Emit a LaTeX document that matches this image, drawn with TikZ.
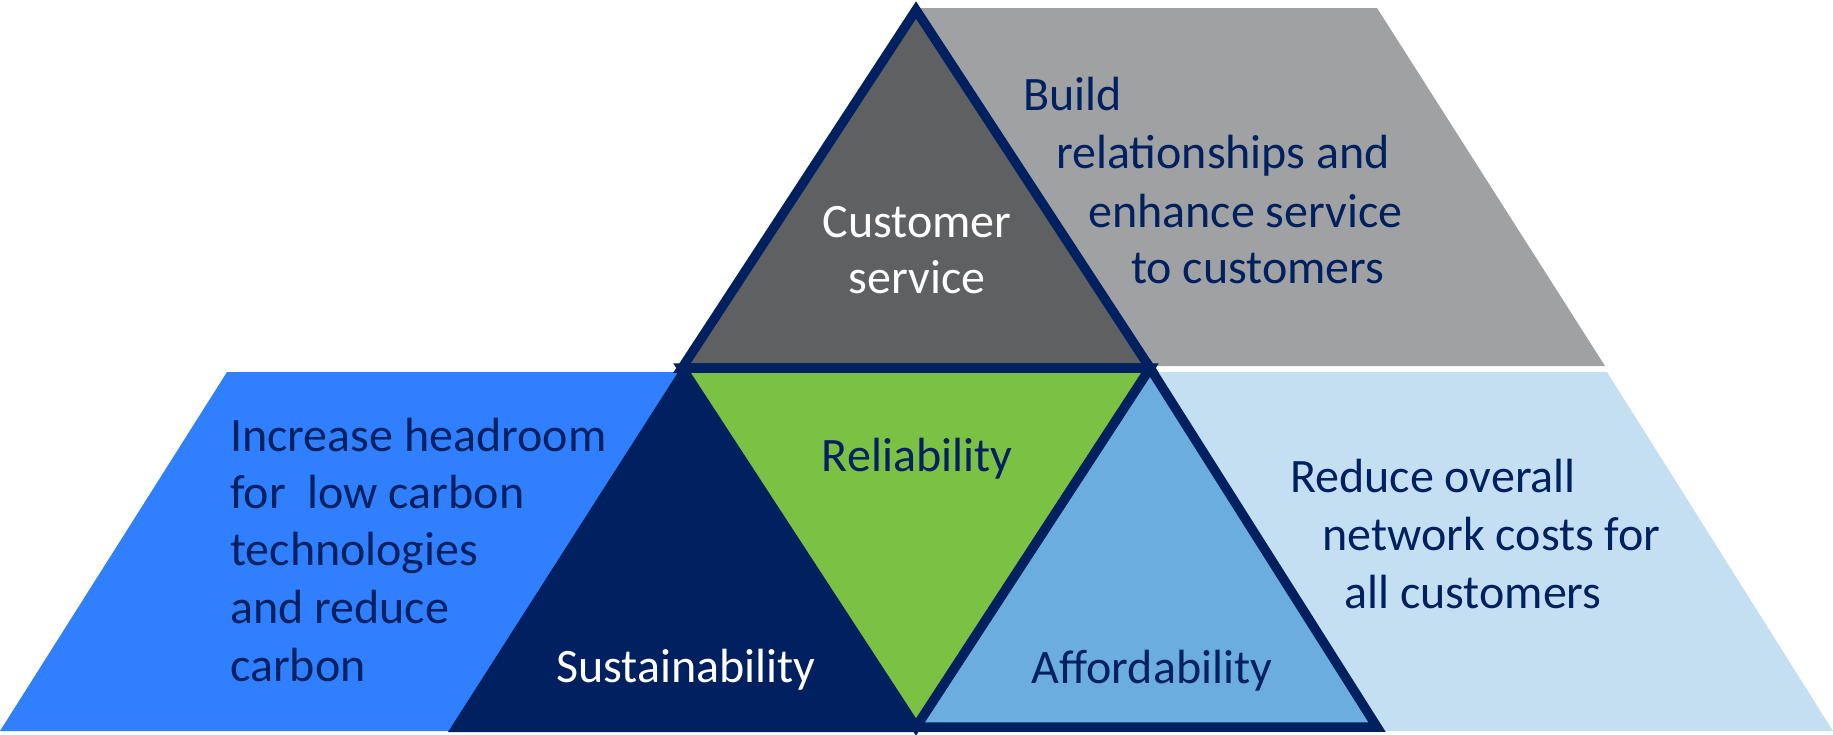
\documentclass[tikz,border=0pt]{standalone}
\usepackage{fontspec}
\setmainfont{Carlito}
\definecolor{navy}{HTML}{002060}
\definecolor{panelgrey}{HTML}{A0A1A3}
\definecolor{darkgrey}{HTML}{5F6062}
\definecolor{brightblue}{HTML}{2F7FFF}
\definecolor{paleblue}{HTML}{C4DFF2}
\definecolor{midblue}{HTML}{6BADDF}
\definecolor{leafgreen}{HTML}{7BC143}
\begin{document}
\begin{tikzpicture}[x=1pt,y=-1pt,
  panel/.style={draw=none},
  tri/.style={draw=navy, line width=9.5pt, miter limit=20, line join=miter},
  txt/.style={inner sep=0pt, font=\fontsize{48}{58}\selectfont},
  dark/.style={txt, text=navy},
  light/.style={txt, text=white}]
\useasboundingbox (0,0) rectangle (1833,734);

% corner points of the central triangles
\coordinate (T) at (916,10);
\coordinate (L) at (682,368);
\coordinate (R) at (1150,368);
\coordinate (M) at (916,727);
\coordinate (BL) at (448,727);
\coordinate (BR) at (1377,727);

% background panels
\fill[panelgrey] (917,8) -- (1377,8) -- (1605,366) -- (1150,366) -- cycle;
\fill[brightblue] (227,372) -- (684,372) -- (450,731) -- (0,731) -- cycle;
\fill[paleblue] (1150,372) -- (1607,372) -- (1833,731) -- (916,731) -- cycle;

% top triangle
\draw[tri, fill=darkgrey] (T) -- (L) -- (R) -- cycle;
% lower left triangle
\fill[navy] (682,366) -- (917,732) -- (448,732) -- cycle;
% lower right triangle
\draw[tri, fill=midblue] (R) -- (M) -- (BR) -- cycle;
% centre triangle
\draw[tri, fill=leafgreen] (L) -- (R) -- (M) -- cycle;

% labels inside the triangles
\node[light, anchor=base] (cs1) at (917,237) {Customer};
\node[light, anchor=base] (cs2) at (917,293) {service};
\node[dark, anchor=base] (rel) at (917,471) {Reliability};
\node[light, anchor=base] (sus) at (686,682) {Sustainability};
\node[dark, anchor=base] (aff) at (1152,683) {Affordability};

% panel texts
\node[dark, anchor=base west] (b1) at (1023,110) {Build};
\node[dark, anchor=base west] (b2) at (1056,168) {relationships and};
\node[dark, anchor=base west] (b3) at (1088,227) {enhance service};
\node[dark, anchor=base west] (b4) at (1131,283) {to customers};

\node[dark, anchor=base west] (h1) at (230,451) {Increase headroom};
\node[dark, anchor=base west] (h2) at (230,508) {for\ \ low carbon};
\node[dark, anchor=base west] (h3) at (230,565) {technologies};
\node[dark, anchor=base west] (h4) at (230,623) {and reduce};
\node[dark, anchor=base west] (h5) at (230,681) {carbon};

\node[dark, anchor=base west] (r1) at (1290,492) {Reduce overall};
\node[dark, anchor=base west] (r2) at (1322,550) {network costs for};
\node[dark, anchor=base west] (r3) at (1344,608) {all customers};
\end{tikzpicture}
\end{document}
